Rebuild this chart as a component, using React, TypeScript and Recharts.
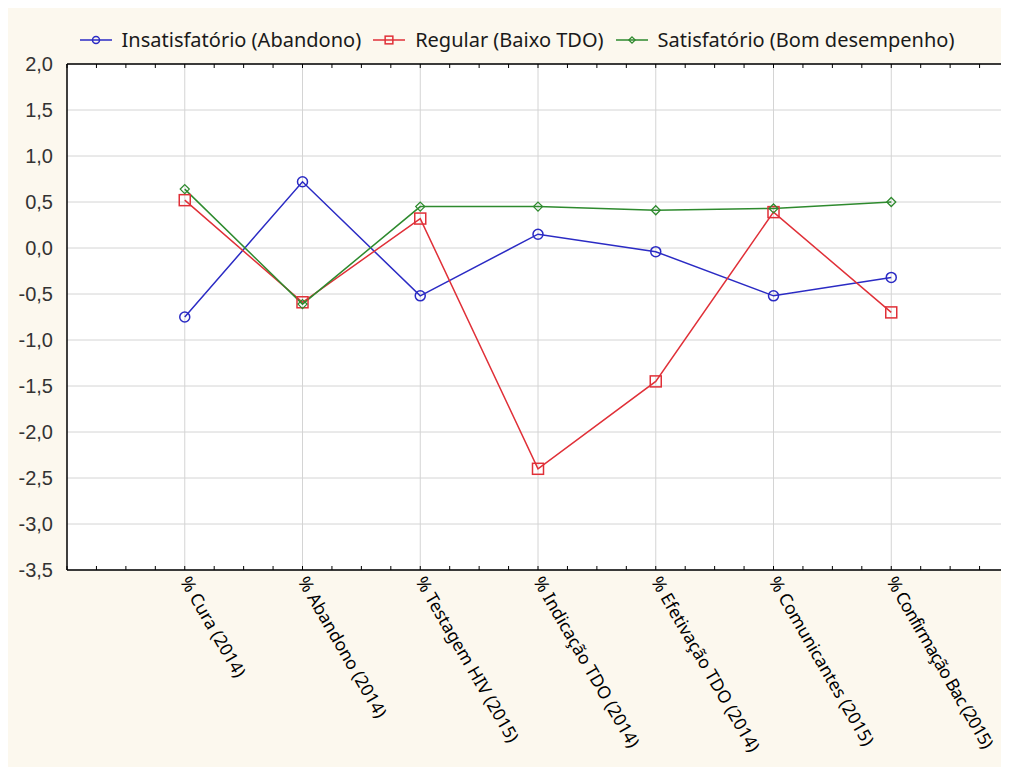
import React from 'react';
import {
  LineChart,
  Line,
  XAxis,
  YAxis,
  CartesianGrid,
  Legend,
} from 'recharts';

const categories = [
  '% Cura (2014)',
  '% Abandono (2014)',
  '% Testagem HIV (2015)',
  '% Indicação TDO (2014)',
  '% Efetivação TDO (2014)',
  '% Comunicantes (2015)',
  '% Confirmação Bac (2015)',
];

const insatisfatorio = [-0.75, 0.72, -0.52, 0.15, -0.04, -0.52, -0.32];
const regular = [0.52, -0.59, 0.32, -2.4, -1.45, 0.39, -0.7];
const satisfatorio = [0.64, -0.61, 0.45, 0.45, 0.41, 0.43, 0.5];

const yTicks = [-3.5, -3, -2.5, -2, -1.5, -1, -0.5, 0, 0.5, 1, 1.5, 2];

const series = [
  { key: 'ins', name: 'Insatisfatório (Abandono)', color: '#2b2bc4', shape: 'circle' },
  { key: 'reg', name: 'Regular (Baixo TDO)', color: '#e03038', shape: 'square' },
  { key: 'sat', name: 'Satisfatório (Bom desempenho)', color: '#2e8a2e', shape: 'diamond' },
];

const data = categories.map((c, i) => ({
  x: i + 1,
  name: c,
  ins: insatisfatorio[i],
  reg: regular[i],
  sat: satisfatorio[i],
}));

// minor tick positions for the frame
const xMinor = Array.from({ length: 33 }, (_, i) => i * 0.25);
const yMinor = Array.from({ length: 56 }, (_, i) => Math.round((-3.5 + i * 0.1) * 10) / 10);

const CREAM = '#fcf8ee';

function Marker({ shape, cx, cy, color, s = 1 }: { shape: string; cx: number; cy: number; color: string; s?: number }) {
  if (shape === 'circle') {
    return <circle cx={cx} cy={cy} r={5 * s} fill="none" stroke={color} strokeWidth={1.5} />;
  }
  if (shape === 'square') {
    const h = 5.5 * s;
    return <rect x={cx - h} y={cy - h} width={h * 2} height={h * 2} fill="none" stroke={color} strokeWidth={1.5} />;
  }
  const d = 4.5 * s;
  return (
    <polygon
      points={`${cx},${cy - d} ${cx + d},${cy} ${cx},${cy + d} ${cx - d},${cy}`}
      fill="none"
      stroke={color}
      strokeWidth={1.3}
    />
  );
}

const XTick = (props: any) => {
  const { x, y, payload } = props;
  const label = categories[Math.round(payload.value) - 1];
  if (!label) return null;
  // the last label is set tighter in the original
  const tight = label.length > 23;
  return (
    <g transform={`translate(${x},${y})`}>
      <text
        transform="rotate(60)"
        x={0}
        y={0}
        dy="0.35em"
        textAnchor="start"
        fontFamily="'Noto Sans', sans-serif"
        fontSize={17.5}
        letterSpacing={tight ? -0.8 : 0}
        fill="#000"
      >
        {label}
      </text>
    </g>
  );
};

const LegendContent = () => (
  <div
    style={{
      height: 40,
      display: 'flex',
      justifyContent: 'center',
      alignItems: 'flex-start',
      paddingLeft: 20,
      fontFamily: "'Noto Sans', sans-serif",
      fontSize: 20,
      color: '#1a1a1a',
      lineHeight: '32px',
    }}
  >
    {series.map((s) => (
      <div key={s.key} style={{ display: 'flex', alignItems: 'center', marginRight: 12 }}>
        <svg width={32} height={14} style={{ marginRight: 10 }}>
          <line x1={0} y1={7} x2={32} y2={7} stroke={s.color} strokeWidth={1.5} />
          <Marker shape={s.shape} cx={16} cy={7} color={s.color} s={0.7} />
        </svg>
        <span>{s.name}</span>
      </div>
    ))}
  </div>
);

export default function App() {
  return (
    <div style={{ width: 1001, height: 759, background: CREAM }}>
      <style>{'body{overflow:hidden}'}</style>
      <LineChart
        width={1001}
        height={759}
        data={data}
        margin={{ top: 16, right: 0, bottom: 0, left: 9 }}
      >
        <CartesianGrid stroke="#d4d4d4" fill="#ffffff" verticalValues={[1, 2, 3, 4, 5, 6, 7]} />
        <XAxis
          dataKey="x"
          type="number"
          domain={[0, 8]}
          ticks={[1, 2, 3, 4, 5, 6, 7]}
          interval={0}
          height={197}
          axisLine={{ stroke: '#000', strokeWidth: 1.5 }}
          tickLine={false}
          tickSize={0}
          tickMargin={8}
          tick={<XTick />}
        />
        <XAxis
          xAxisId="minorB"
          dataKey="x"
          type="number"
          domain={[0, 8]}
          ticks={xMinor}
          interval={0}
          mirror
          axisLine={false}
          tickLine={{ stroke: '#000' }}
          tickSize={4}
          tickFormatter={() => ''}
        />
        <XAxis
          xAxisId="top"
          orientation="top"
          dataKey="x"
          type="number"
          domain={[0, 8]}
          ticks={xMinor}
          interval={0}
          mirror
          axisLine={{ stroke: '#000', strokeWidth: 1.5 }}
          tickLine={{ stroke: '#000' }}
          tickSize={4}
          tickFormatter={() => ''}
        />
        <YAxis
          type="number"
          domain={[-3.5, 2]}
          ticks={yTicks}
          interval={0}
          width={50}
          axisLine={{ stroke: '#000', strokeWidth: 1.5 }}
          tickLine={false}
          tickSize={4}
          tickMargin={10}
          tickFormatter={(v: number) => v.toFixed(1).replace('.', ',')}
          tick={{ fontFamily: "'Liberation Sans', Arial, sans-serif", fontSize: 20, fill: '#333' }}
        />
        <YAxis
          yAxisId="minorL"
          type="number"
          domain={[-3.5, 2]}
          ticks={yMinor}
          interval={0}
          mirror
          axisLine={false}
          tickLine={{ stroke: '#000' }}
          tickSize={4}
          tickFormatter={() => ''}
        />
        <YAxis
          yAxisId="right"
          orientation="right"
          type="number"
          domain={[-3.5, 2]}
          ticks={yMinor}
          interval={0}
          mirror
          axisLine={{ stroke: '#000', strokeWidth: 1.5 }}
          tickLine={{ stroke: '#000' }}
          tickSize={4}
          tickFormatter={() => ''}
        />
        <Legend verticalAlign="top" align="center" content={<LegendContent />} />
        {series.map((s) => (
          <Line
            key={s.key}
            dataKey={s.key}
            name={s.name}
            stroke={s.color}
            strokeWidth={1.5}
            isAnimationActive={false}
            dot={(p: any) => <Marker key={`${s.key}-${p.index}`} shape={s.shape} cx={p.cx} cy={p.cy} color={s.color} />}
            activeDot={false}
          />
        ))}
      </LineChart>
    </div>
  );
}
